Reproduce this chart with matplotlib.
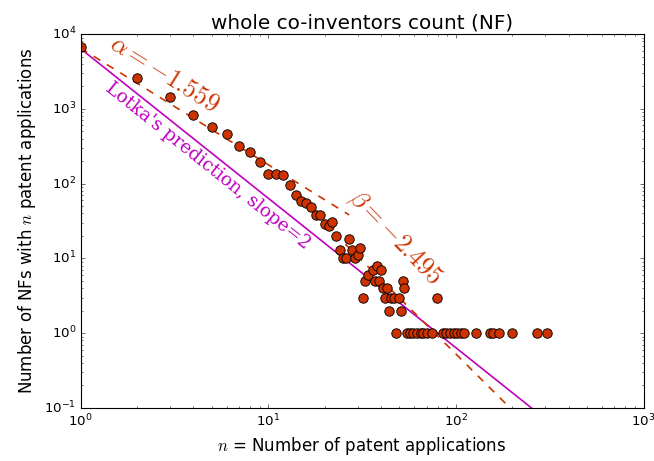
import numpy as np
import matplotlib
matplotlib.use("Agg")
import matplotlib.pyplot as plt

plt.style.use("classic")

# number of patent applications per NF and how many NFs have that count
apps = [1, 2, 3, 4, 5, 6, 7, 8, 9, 10, 11, 12, 13, 14, 15, 16, 17, 18, 19, 20,
        21, 22, 23, 24, 25, 26, 27, 28, 29, 30, 31, 32, 33, 34, 36, 37, 38, 39,
        40, 41, 42, 43, 44, 45, 47, 50, 51, 52, 53, 79,
        48, 55, 57, 59, 62, 65, 67, 70, 75, 85, 89, 93, 98, 102, 107, 111,
        128, 152, 158, 170, 200, 269, 305]
counts = [6700, 2600, 1440, 830, 580, 455, 320, 265, 196, 136, 133, 129, 97, 70,
          59, 55, 48, 38, 38, 29, 27, 31, 20, 13, 10, 10, 18, 13, 10, 11, 14,
          3, 5, 6, 7, 5, 8, 5, 7, 4, 3, 4, 2, 3, 3, 3, 2, 5, 4, 3,
          1, 1, 1, 1, 1, 1, 1, 1, 1, 1, 1, 1, 1, 1, 1, 1,
          1, 1, 1, 1, 1, 1, 1]

# fitted exponents and prefactors
alpha = -1.559
alpha_amp = 6500.0
alpha_range = [1, 27]
beta = -2.495
beta_amp = 51500.0
beta_range = [15, 1000]
lotka_amp = 6400.0

red = "#cc3300"

fig = plt.figure(figsize=(654 / 80, 461 / 80), dpi=80)
ax = fig.add_axes([0.1231, 0.115, 0.8609, 0.811])

n1 = np.logspace(np.log10(alpha_range[0]), np.log10(alpha_range[1]), 50)
n2 = np.logspace(np.log10(beta_range[0]), np.log10(beta_range[1]), 50)
nl = np.logspace(0, 3, 50)

ax.plot(nl, lotka_amp * nl ** -2.0, "-", color="m", lw=1.5)
ax.plot(n1, alpha_amp * n1 ** alpha, "--", color=red, lw=1.5, dashes=(7, 7))
ax.plot(n2, beta_amp * n2 ** beta, "--", color=red, lw=1.5, dashes=(7, 7))
ax.plot(apps, counts, "o", color=red, markeredgecolor="k",
        markeredgewidth=0.8, markersize=8.5)

ax.set_xscale("log")
ax.set_yscale("log")
ax.set_xlim(1, 1000)
ax.set_ylim(0.1, 10000)

ax.text(2.82, 2950, r"$\alpha=-1.559$", color=red, fontsize=23,
        rotation=-32, ha="center", va="center", rotation_mode="anchor")
ax.text(47.4, 18.8, r"$\beta=-2.495$", color=red, fontsize=23,
        rotation=-46, ha="center", va="center", rotation_mode="anchor")
ax.text(4.78, 172, "Lotka's prediction, slope=2", color="m", fontsize=16.5,
        family="DejaVu Serif", rotation=-38.6, ha="center", va="center",
        rotation_mode="anchor")

ax.set_title("whole co-inventors count (NF)", fontsize=18)
ax.set_xlabel("$n$ = Number of patent applications", fontsize=15)
ax.set_ylabel("Number of NFs with $n$ patent applications", fontsize=15)

fig.savefig("out.png", dpi=80)
